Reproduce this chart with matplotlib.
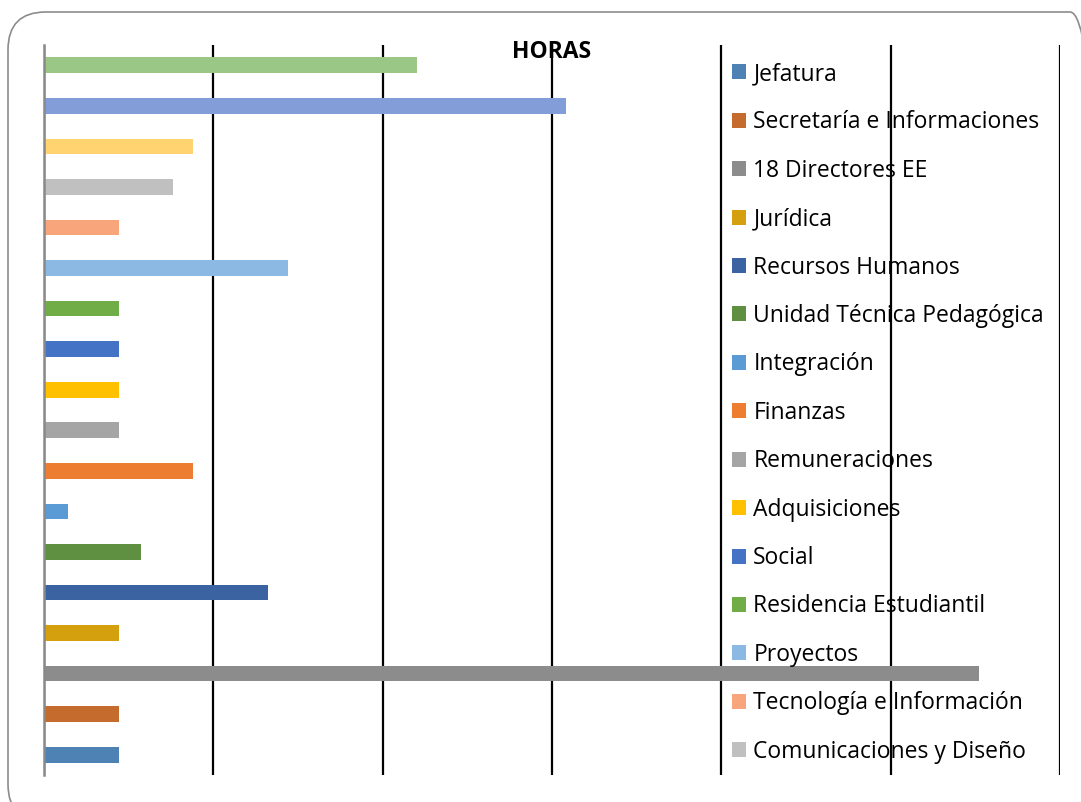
import matplotlib.pyplot as plt
from matplotlib.patches import FancyBboxPatch

plt.rcParams['font.family'] = ['Open Sans', 'DejaVu Sans']

# Unidades (de abajo hacia arriba); las tres últimas no aparecen en la leyenda original
unidades = ["Jefatura", "Secretaría e Informaciones", "18 Directores EE", "Jurídica",
            "Recursos Humanos", "Unidad Técnica Pedagógica", "Integración", "Finanzas",
            "Remuneraciones", "Adquisiciones", "Social", "Residencia Estudiantil",
            "Proyectos", "Tecnología e Información", "Comunicaciones y Diseño",
            "Serie 16", "Serie 17", "Serie 18"]
horas = [44, 44, 552, 44, 132, 57, 14, 88, 44, 44, 44, 44, 144, 44, 76, 88, 308, 220]
colores = ["#4E82B4", "#C56B2E", "#8C8C8C", "#D4A00E", "#3B62A1", "#5F8F40",
           "#5B9BD5", "#ED7D31", "#A5A5A5", "#FFC000", "#4472C4", "#70AD47",
           "#8CB8E4", "#F9A57B", "#C0C0C0", "#FFD470", "#839DD8", "#9AC686"]
n_leyenda = 15

fig = plt.figure(figsize=(10.81, 8.02), dpi=100)
ax = fig.add_axes([44 / 1081, 1 - 775 / 802, (1060 - 44) / 1081, (775 - 45) / 802])

# marco redondeado del gráfico
marco = FancyBboxPatch((8 / 1081, -20 / 802), 1100 / 1081, (802 - 12 + 20) / 802,
                       boxstyle="round,pad=0,rounding_size=0.035",
                       transform=fig.transFigure, facecolor="none",
                       edgecolor="#8C8C8C", linewidth=1.2, clip_on=False,
                       mutation_aspect=1081 / 802)
fig.patches.append(marco)

pos = list(range(len(horas)))
barras = ax.barh(pos, horas, height=0.385, color=colores, zorder=3)

ax.set_xlim(0, 600)
ax.set_ylim(-0.5, len(horas) - 0.5)
ax.set_xticks(range(0, 601, 100))
ax.set_yticks([])
ax.set_xticklabels([])
ax.tick_params(axis='both', length=0)
ax.grid(axis='x', color='black', linewidth=1.6, zorder=1)
ax.set_axisbelow(True)
for s in ["top", "right", "bottom"]:
    ax.spines[s].set_visible(False)
ax.spines["left"].set_color("#898989")
ax.spines["left"].set_linewidth(1.8)
ax.spines["left"].set_zorder(4)

ax.set_title("HORAS", fontsize=16.5, fontweight="bold", pad=-9, y=1.0)

fig.legend(list(barras)[:n_leyenda], unidades[:n_leyenda],
           loc="upper left", bbox_to_anchor=(732 / 1081, 1 - 62 / 802),
           frameon=False, fontsize=16.5, handlelength=0.63, handleheight=0.63,
           handletextpad=0.3, labelspacing=1.065, borderpad=0, borderaxespad=0)

fig.savefig("out.png", dpi=100)
